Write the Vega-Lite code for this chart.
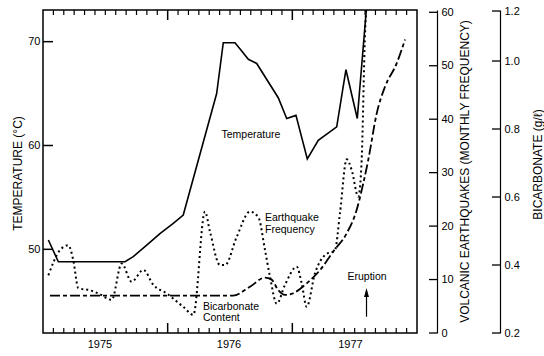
{
  "$schema": "https://vega.github.io/schema/vega-lite/v6.json",
  "width": 374,
  "height": 323,
  "autosize": {"type": "none"},
  "padding": {"left": 43, "top": 10, "right": 127, "bottom": 23},
  "background": "white",
  "config": {
    "view": {"stroke": "black", "strokeWidth": 1.5},
    "font": "Liberation Sans",
    "axis": {
      "labelFont": "Liberation Sans",
      "labelFontSize": 11,
      "labelColor": "black",
      "titleFont": "Liberation Sans",
      "titleFontSize": 12,
      "titleFontWeight": "normal",
      "titleColor": "black",
      "ticks": false,
      "grid": false,
      "domainColor": "black"
    }
  },
  "datasets": {
    "months": [
      {"year": 1975.0833}, {"year": 1975.1667}, {"year": 1975.25}, {"year": 1975.3333}, {"year": 1975.4167}, {"year": 1975.5},
      {"year": 1975.5833}, {"year": 1975.6667}, {"year": 1975.75}, {"year": 1975.8333}, {"year": 1975.9167},
      {"year": 1976.0833}, {"year": 1976.1667}, {"year": 1976.25}, {"year": 1976.3333}, {"year": 1976.4167}, {"year": 1976.5},
      {"year": 1976.5833}, {"year": 1976.6667}, {"year": 1976.75}, {"year": 1976.8333}, {"year": 1976.9167},
      {"year": 1977.0833}, {"year": 1977.1667}, {"year": 1977.25}, {"year": 1977.3333}, {"year": 1977.4167}, {"year": 1977.5},
      {"year": 1977.5833}, {"year": 1977.6667}, {"year": 1977.75}, {"year": 1977.8333}, {"year": 1977.9167}
    ],
    "years": [{"year": 1976}, {"year": 1977}]
  },
  "resolve": {
    "scale": {"y": "independent"},
    "axis": {"y": "independent"}
  },
  "layer": [
    {
      "layer": [
        {
          "data": {"values": [
            {"year": 1975.043, "temp": 50.9},
            {"year": 1975.123, "temp": 48.8},
            {"year": 1975.658, "temp": 48.8},
            {"year": 1975.724, "temp": 49.3},
            {"year": 1975.832, "temp": 50.4},
            {"year": 1975.938, "temp": 51.5},
            {"year": 1976.045, "temp": 52.5},
            {"year": 1976.125, "temp": 53.3},
            {"year": 1976.393, "temp": 65.0},
            {"year": 1976.446, "temp": 69.9},
            {"year": 1976.540, "temp": 69.9},
            {"year": 1976.594, "temp": 69.1},
            {"year": 1976.647, "temp": 68.3},
            {"year": 1976.714, "temp": 67.9},
            {"year": 1976.887, "temp": 64.6},
            {"year": 1976.955, "temp": 62.6},
            {"year": 1977.029, "temp": 62.9},
            {"year": 1977.120, "temp": 58.7},
            {"year": 1977.208, "temp": 60.5},
            {"year": 1977.356, "temp": 61.8},
            {"year": 1977.430, "temp": 67.3},
            {"year": 1977.521, "temp": 62.6},
            {"year": 1977.600, "temp": 74.0}
          ]},
          "mark": {"type": "line", "color": "black", "strokeWidth": 1.6, "clip": true},
          "encoding": {
            "x": {"field": "year", "type": "quantitative",
              "scale": {"domain": [1975, 1978], "nice": false, "zero": false},
              "axis": {"orient": "bottom", "title": null, "domain": false, "ticks": false,
                "labelPadding": 5, "values": [1975.453, 1976.488, 1977.462],
                "labelExpr": "'' + floor(datum.value)"}},
            "y": {"field": "temp", "type": "quantitative",
              "scale": {"domain": [41.94, 73.05], "nice": false, "zero": false},
              "axis": {"orient": "left", "values": [50, 60, 70], "ticks": false, "labelPadding": 3,
                "domain": false, "title": "TEMPERATURE (°C)", "titleAngle": 270,
                "titleX": -26, "titleY": 163, "titleAlign": "center", "titleBaseline": "middle"}}
          }
        },
        {
          "data": {"name": "months"},
          "mark": {"type": "rule", "color": "black", "strokeWidth": 1.2},
          "encoding": {
            "x": {"field": "year", "type": "quantitative"},
            "y": {"datum": 41.94, "type": "quantitative"},
            "y2": {"datum": 42.42}
          }
        },
        {
          "data": {"name": "months"},
          "mark": {"type": "rule", "color": "black", "strokeWidth": 1.2},
          "encoding": {
            "x": {"field": "year", "type": "quantitative"},
            "y": {"datum": 73.05, "type": "quantitative"},
            "y2": {"datum": 72.57}
          }
        },
        {
          "data": {"name": "years"},
          "mark": {"type": "rule", "color": "black", "strokeWidth": 1.5},
          "encoding": {
            "x": {"field": "year", "type": "quantitative"},
            "y": {"datum": 41.94, "type": "quantitative"},
            "y2": {"datum": 42.90}
          }
        },
        {
          "data": {"name": "years"},
          "mark": {"type": "rule", "color": "black", "strokeWidth": 1.5},
          "encoding": {
            "x": {"field": "year", "type": "quantitative"},
            "y": {"datum": 73.05, "type": "quantitative"},
            "y2": {"datum": 72.09}
          }
        },
        {
          "data": {"values": [{"temp": 50}, {"temp": 60}, {"temp": 70}]},
          "mark": {"type": "rule", "color": "black", "strokeWidth": 1.5},
          "encoding": {
            "x": {"datum": 1975, "type": "quantitative"},
            "x2": {"datum": 1975.08},
            "y": {"field": "temp", "type": "quantitative"}
          }
        },
        {
          "data": {"values": [
            {"year": 1976.668, "temp": 61.01, "label": "Temperature"},
            {"year": 1977.599, "temp": 47.36, "label": "Eruption"}
          ]},
          "mark": {"type": "text", "font": "Liberation Sans", "fontSize": 10.5, "color": "black", "baseline": "middle", "align": "center"},
          "encoding": {
            "x": {"field": "year", "type": "quantitative"},
            "y": {"field": "temp", "type": "quantitative"},
            "text": {"field": "label"}
          }
        },
        {
          "data": {"values": [
            {"year": 1977.595, "temp": 43.51, "temp2": 46.0}
          ]},
          "mark": {"type": "rule", "color": "black", "strokeWidth": 1.2},
          "encoding": {
            "x": {"field": "year", "type": "quantitative"},
            "y": {"field": "temp", "type": "quantitative"},
            "y2": {"field": "temp2"}
          }
        },
        {
          "data": {"values": [
            {"year": 1977.595, "temp": 45.84}
          ]},
          "mark": {"type": "point", "filled": true, "color": "black", "opacity": 1,
            "shape": "M0,-1L0.55,1L-0.55,1Z", "size": 81},
          "encoding": {
            "x": {"field": "year", "type": "quantitative"},
            "y": {"field": "temp", "type": "quantitative"}
          }
        }
      ]
    },
    {
      "layer": [
        {
          "data": {"values": [
            {"year": 1975.043, "quakes": 10.8},
            {"year": 1975.136, "quakes": 15.5},
            {"year": 1975.203, "quakes": 16.4},
            {"year": 1975.243, "quakes": 13.6},
            {"year": 1975.283, "quakes": 8.4},
            {"year": 1975.377, "quakes": 8.0},
            {"year": 1975.444, "quakes": 7.4},
            {"year": 1975.551, "quakes": 6.2},
            {"year": 1975.631, "quakes": 13.0},
            {"year": 1975.711, "quakes": 9.6},
            {"year": 1975.805, "quakes": 11.8},
            {"year": 1975.885, "quakes": 9.0},
            {"year": 1975.992, "quakes": 7.4},
            {"year": 1976.125, "quakes": 4.9},
            {"year": 1976.206, "quakes": 3.4},
            {"year": 1976.299, "quakes": 22.7},
            {"year": 1976.339, "quakes": 19.0},
            {"year": 1976.420, "quakes": 12.7},
            {"year": 1976.460, "quakes": 12.7},
            {"year": 1976.554, "quakes": 18.0},
            {"year": 1976.660, "quakes": 22.7},
            {"year": 1976.727, "quakes": 21.7},
            {"year": 1976.781, "quakes": 15.5},
            {"year": 1976.821, "quakes": 10.5},
            {"year": 1976.875, "quakes": 5.5},
            {"year": 1976.941, "quakes": 9.0},
            {"year": 1977.035, "quakes": 12.4},
            {"year": 1977.075, "quakes": 9.3},
            {"year": 1977.115, "quakes": 4.9},
            {"year": 1977.182, "quakes": 11.2},
            {"year": 1977.262, "quakes": 14.6},
            {"year": 1977.342, "quakes": 15.5},
            {"year": 1977.382, "quakes": 22.4},
            {"year": 1977.436, "quakes": 32.5},
            {"year": 1977.476, "quakes": 30.5},
            {"year": 1977.529, "quakes": 25.5},
            {"year": 1977.556, "quakes": 32.3},
            {"year": 1977.583, "quakes": 56.0},
            {"year": 1977.596, "quakes": 62.0}
          ]},
          "mark": {"type": "line", "color": "black", "strokeWidth": 2, "strokeDash": [2, 3], "interpolate": "monotone", "clip": true},
          "encoding": {
            "x": {"field": "year", "type": "quantitative"},
            "y": {"field": "quakes", "type": "quantitative",
              "scale": {"domain": [0, 60.43], "nice": false, "zero": false},
              "axis": {"orient": "right", "offset": 20, "values": [0, 10, 20, 30, 40, 50, 60],
                "ticks": false, "labelPadding": 4, "domain": true, "domainWidth": 1.2,
                "title": "VOLCANIC EARTHQUAKES (MONTHLY FREQUENCY)", "titleAngle": 270,
                "titleX": 27, "titleY": 161, "titleAlign": "center", "titleBaseline": "middle"}}
          }
        },
        {
          "data": {"values": [{"quakes": 0}, {"quakes": 10}, {"quakes": 20}, {"quakes": 30}, {"quakes": 40}, {"quakes": 50}, {"quakes": 60}]},
          "mark": {"type": "rule", "color": "black", "strokeWidth": 1.3},
          "encoding": {
            "x": {"datum": 1978.0963, "type": "quantitative"},
            "x2": {"datum": 1978.1604},
            "y": {"field": "quakes", "type": "quantitative"}
          }
        },
        {
          "data": {"values": [
            {"year": 1976.781, "quakes": 21.55, "label": "Earthquake"},
            {"year": 1976.781, "quakes": 19.18, "label": "Frequency"}
          ]},
          "mark": {"type": "text", "font": "Liberation Sans", "fontSize": 10.5, "color": "black", "baseline": "middle", "align": "left"},
          "encoding": {
            "x": {"field": "year", "type": "quantitative"},
            "y": {"field": "quakes", "type": "quantitative"},
            "text": {"field": "label"}
          }
        }
      ]
    },
    {
      "layer": [
        {
          "data": {"values": [
            {"year": 1975.056, "bicarb": 0.31},
            {"year": 1975.858, "bicarb": 0.31},
            {"year": 1976.524, "bicarb": 0.31},
            {"year": 1976.660, "bicarb": 0.336},
            {"year": 1976.781, "bicarb": 0.363},
            {"year": 1976.834, "bicarb": 0.357},
            {"year": 1976.887, "bicarb": 0.326},
            {"year": 1976.941, "bicarb": 0.312},
            {"year": 1977.008, "bicarb": 0.317},
            {"year": 1977.115, "bicarb": 0.346},
            {"year": 1977.222, "bicarb": 0.385},
            {"year": 1977.329, "bicarb": 0.44},
            {"year": 1977.436, "bicarb": 0.493},
            {"year": 1977.516, "bicarb": 0.562},
            {"year": 1977.569, "bicarb": 0.64},
            {"year": 1977.609, "bicarb": 0.709},
            {"year": 1977.677, "bicarb": 0.846},
            {"year": 1977.743, "bicarb": 0.924},
            {"year": 1977.837, "bicarb": 0.993},
            {"year": 1977.904, "bicarb": 1.063}
          ]},
          "mark": {"type": "line", "color": "black", "strokeWidth": 1.8, "strokeDash": [10, 3, 4, 3], "interpolate": "monotone", "clip": true},
          "encoding": {
            "x": {"field": "year", "type": "quantitative"},
            "y": {"field": "bicarb", "type": "quantitative",
              "scale": {"domain": [0.2, 1.15], "nice": false, "zero": false},
              "axis": {"orient": "right", "offset": 83, "values": [0.2, 0.4, 0.6, 0.8, 1.0, 1.147],
                "labelExpr": "datum.value > 1.1 ? '1.2' : format(datum.value, '.1f')",
                "ticks": false, "labelPadding": 4, "domain": true, "domainWidth": 1.2,
                "title": "BICARBONATE (g/ℓ)", "titleAngle": 270,
                "titleX": 37, "titleY": 154, "titleAlign": "center", "titleBaseline": "middle"}}
          }
        },
        {
          "data": {"values": [{"bicarb": 0.2}, {"bicarb": 0.4}, {"bicarb": 0.6}, {"bicarb": 0.8}, {"bicarb": 1.0}, {"bicarb": 1.147}]},
          "mark": {"type": "rule", "color": "black", "strokeWidth": 1.3},
          "encoding": {
            "x": {"datum": 1978.6016, "type": "quantitative"},
            "x2": {"datum": 1978.6658},
            "y": {"field": "bicarb", "type": "quantitative"}
          }
        },
        {
          "data": {"values": [
            {"year": 1976.283, "bicarb": 0.277, "label": "Bicarbonate"},
            {"year": 1976.283, "bicarb": 0.243, "label": "Content"}
          ]},
          "mark": {"type": "text", "font": "Liberation Sans", "fontSize": 10.5, "color": "black", "baseline": "middle", "align": "left"},
          "encoding": {
            "x": {"field": "year", "type": "quantitative"},
            "y": {"field": "bicarb", "type": "quantitative"},
            "text": {"field": "label"}
          }
        }
      ]
    }
  ]
}
